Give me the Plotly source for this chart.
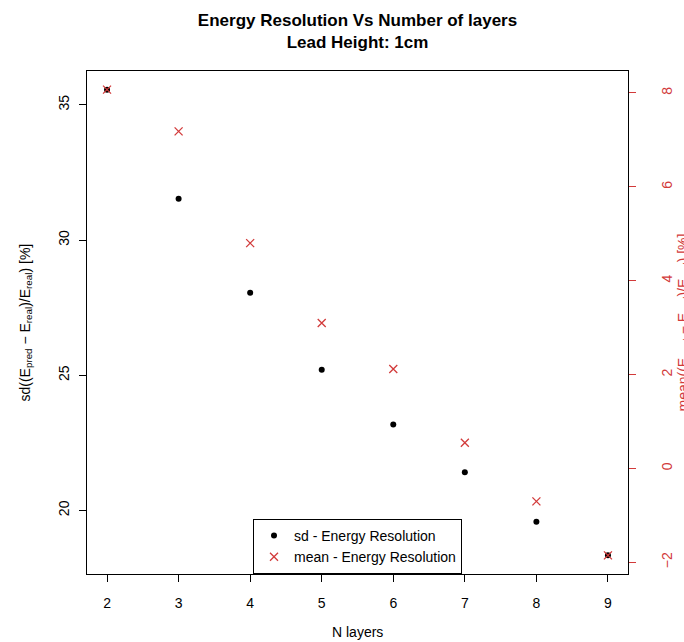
import plotly.graph_objects as go

# Energy resolution study: lead height 1 cm, varying number of layers
n_layers = [2, 3, 4, 5, 6, 7, 8, 9]
sd_resolution = [35.56, 31.53, 28.05, 25.20, 23.18, 21.41, 19.58, 18.34]
mean_resolution = [8.07, 7.18, 4.80, 3.10, 2.12, 0.55, -0.70, -1.85]

left_ticks = [20, 25, 30, 35]
right_ticks = [-2, 0, 2, 4, 6, 8]
x_ticks = n_layers

RED = "#d23a3a"
FONT = "Liberation Sans, Arial, sans-serif"

W, H = 684, 642
ML, MR, MT, MB = 87, 56, 71, 68


def padded(values, frac=0.04):
    lo, hi = min(values), max(values)
    pad = (hi - lo) * frac
    return [lo - pad, hi + pad]


mean_range = padded(mean_resolution)

fig = go.Figure()

fig.add_trace(go.Scatter(
    x=n_layers, y=sd_resolution, mode="markers",
    name="sd - Energy Resolution",
    marker=dict(symbol="circle", size=6, color="black"),
    yaxis="y",
))
# transparent copy of the mean series so the tick-mark axis (y3) is rendered
fig.add_trace(go.Scatter(
    x=n_layers, y=mean_resolution, mode="markers",
    marker=dict(size=1, opacity=0), showlegend=False, hoverinfo="skip",
    yaxis="y3",
))
fig.add_trace(go.Scatter(
    x=n_layers, y=mean_resolution, mode="markers",
    name="mean - Energy Resolution",
    marker=dict(symbol="x-thin", size=8, color=RED,
                line=dict(color=RED, width=1.3)),
    yaxis="y2",
))

fig.update_layout(
    width=W, height=H,
    margin=dict(l=ML, r=MR, t=MT, b=MB, autoexpand=False),
    paper_bgcolor="white", plot_bgcolor="white",
    font=dict(family=FONT, size=14, color="black"),
    showlegend=True,
    title=dict(
        text="<b>Energy Resolution Vs Number of layers<br>Lead Height: 1cm</b>",
        font=dict(family=FONT, size=17, color="black"),
        x=0.5, xref="paper", xanchor="center",
        y=1 - 26 / H, yref="container", yanchor="top",
    ),
    xaxis=dict(
        range=padded(n_layers),
        tickmode="array", tickvals=x_ticks,
        ticks="outside", ticklen=7, tickcolor="black", tickwidth=1,
        ticklabelstandoff=9, automargin=False,
        showline=True, linecolor="black", linewidth=1, mirror=True,
        showgrid=False, zeroline=False,
        tickfont=dict(size=14),
    ),
    yaxis=dict(
        range=padded(sd_resolution),
        tickmode="array", tickvals=left_ticks,
        ticks="outside", ticklen=7, tickcolor="black", tickwidth=1,
        tickangle=-90, ticklabelstandoff=4, automargin=False,
        showline=True, linecolor="black", linewidth=1, mirror=True,
        showgrid=False, zeroline=False,
        tickfont=dict(size=14),
    ),
    # right axis: labels (spaced out by invisible long ticks)
    yaxis2=dict(
        range=mean_range,
        overlaying="y", side="right", anchor="x",
        tickmode="array", tickvals=right_ticks,
        ticks="outside", ticklen=26, tickcolor="rgba(0,0,0,0)", tickwidth=1,
        tickangle=-90, automargin=False,
        showline=False, showgrid=False, zeroline=False,
        tickfont=dict(size=14, color=RED),
    ),
    # right axis: visible short red tick marks
    yaxis3=dict(
        range=mean_range,
        overlaying="y", side="right", anchor="x",
        tickmode="array", tickvals=right_ticks,
        ticks="outside", ticklen=7, tickcolor=RED, tickwidth=1,
        showticklabels=False, automargin=False,
        showline=False, showgrid=False, zeroline=False,
    ),
    legend=dict(
        x=0.5, xref="paper", xanchor="center",
        y=0, yref="paper", yanchor="bottom",
        bgcolor="white", bordercolor="black", borderwidth=1,
        font=dict(size=14), itemwidth=30,
    ),
)

# Axis titles drawn as annotations
fig.add_annotation(
    text="N layers",
    xref="paper", yref="paper", x=0.5, y=0, yshift=-58,
    xanchor="center", yanchor="middle",
    showarrow=False, font=dict(size=14, color="black"),
)
fig.add_annotation(
    text="sd((E<sub>pred</sub> − E<sub>real</sub>)/E<sub>real</sub>) [%]",
    xref="paper", yref="paper", x=0, y=0.5, xshift=-62,
    xanchor="center", yanchor="middle", textangle=-90,
    showarrow=False, font=dict(size=14, color="black"),
)
fig.add_annotation(
    text="mean((E<sub>pred</sub> − E<sub>real</sub>)/E<sub>real</sub>) [%]",
    xref="paper", yref="paper", x=1, y=0.5, xshift=55,
    xanchor="center", yanchor="middle", textangle=-90,
    showarrow=False, font=dict(size=14, color=RED),
)

fig.write_html("out.html")
